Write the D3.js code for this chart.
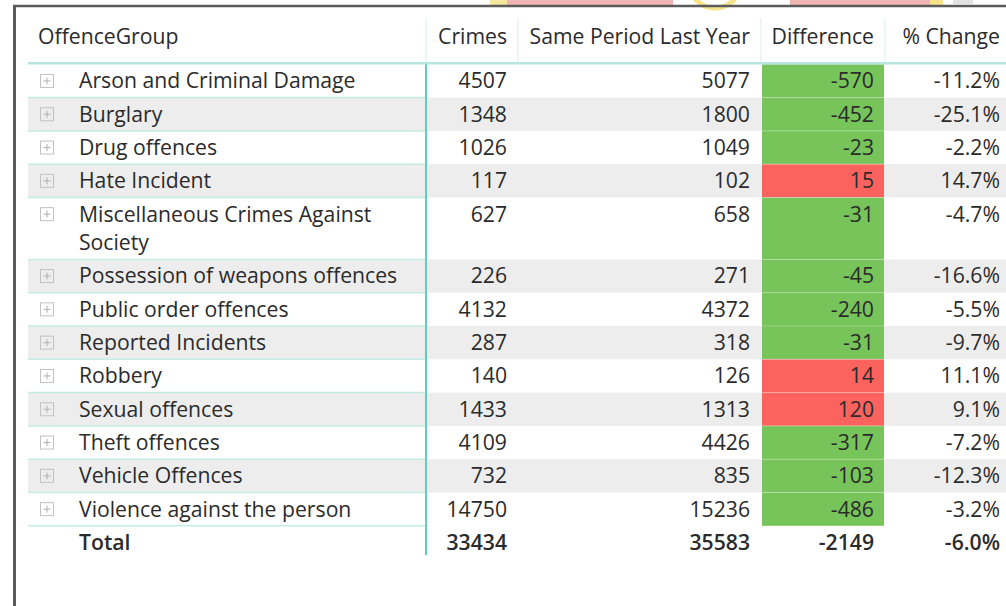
<!DOCTYPE html>
<html>
<head>
<meta charset="utf-8">
<script src="https://cdn.jsdelivr.net/npm/d3@7"></script>
<style>
  html, body { margin: 0; padding: 0; background: #fff; }
  svg { display: block; font-family: "Open Sans", "Noto Sans", sans-serif; }
</style>
</head>
<body>
<svg id="chart" width="1006" height="606"></svg>
<script>
const headers = ['OffenceGroup', 'Crimes', 'Same Period Last Year', 'Difference', '% Change']

const offenceGroups = [
  'Arson and Criminal Damage',
  'Burglary',
  'Drug offences',
  'Hate Incident',
  'Miscellaneous Crimes Against Society',
  'Possession of weapons offences',
  'Public order offences',
  'Reported Incidents',
  'Robbery',
  'Sexual offences',
  'Theft offences',
  'Vehicle Offences',
  'Violence against the person'
]
const crimes = [4507, 1348, 1026, 117, 627, 226, 4132, 287, 140, 1433, 4109, 732, 14750]
const lastYear = [5077, 1800, 1049, 102, 658, 271, 4372, 318, 126, 1313, 4426, 835, 15236]
const difference = [-570, -452, -23, 15, -31, -45, -240, -31, 14, 120, -317, -103, -486]
const pctChange = [-11.2, -25.1, -2.2, 14.7, -4.7, -16.6, -5.5, -9.7, 11.1, 9.1, -7.2, -12.3, -3.2]

const totalLabel = 'Total'
const totalValues = [33434, 35583, -2149, -6.0]

// layout
const W = 1006
const H = 606
const colEdges = [28, 426, 518, 761, 885, 1011]
const headerY = 37
const headerBottom = 64.3
const rowH = 33.3
const extraLine = 28.6
const padRight = 11
const labelX = 79
const wrapWidth = 340
const fontSize = 21.2

const textColor = '#2b2b2b'
const teal = '#5ccfc1'
const tealLight = '#c4ebe5'
const band = '#ededed'

const diffColor = d3.scaleThreshold().domain([0]).range(['#77c45a', '#fd635e'])
const locale = d3.formatLocale({ decimal: '.', thousands: ',', grouping: [3], currency: ['', ''], minus: '-' })
const fmtPct = d => locale.format('.1f')(d) + '%'

const svg = d3.select('#chart')

svg.append('rect').attr('width', W).attr('height', H).attr('fill', '#fff')

// faint artwork peeking above the frame
const deco = svg.append('g')
deco.append('rect').attr('x', 507).attr('y', 0).attr('width', 166).attr('height', 5).attr('fill', '#f1b4b2')
deco.append('rect').attr('x', 790).attr('y', 0).attr('width', 140).attr('height', 5).attr('fill', '#f1b4b2')
deco.append('circle').attr('cx', 715).attr('cy', -18).attr('r', 26)
  .attr('fill', '#fff').attr('stroke', '#f6e38a').attr('stroke-width', 5)
deco.append('rect').attr('x', 490).attr('y', 0).attr('width', 17).attr('height', 5).attr('fill', '#f6e7a0')
deco.append('rect').attr('x', 930).attr('y', 0).attr('width', 13).attr('height', 5).attr('fill', '#f6e38a')
deco.append('rect').attr('x', 953).attr('y', 0).attr('width', 20).attr('height', 4).attr('fill', '#e2e2e2')

// frame
svg.append('line').attr('x1', 13).attr('x2', W).attr('y1', 6).attr('y2', 6)
  .attr('stroke', '#5b5b5b').attr('stroke-width', 2.5)
svg.append('line').attr('x1', 14.5).attr('x2', 14.5).attr('y1', 5).attr('y2', H)
  .attr('stroke', '#5b5b5b').attr('stroke-width', 3)

// measure + wrap labels
const measure = svg.append('text').attr('font-size', fontSize).attr('visibility', 'hidden')
function wrap(label) {
  const words = label.split(' ')
  const lines = []
  let cur = ''
  words.forEach(w => {
    const test = cur ? cur + ' ' + w : w
    measure.text(test)
    if (measure.node().getComputedTextLength() > wrapWidth && cur) {
      lines.push(cur)
      cur = w
    } else {
      cur = test
    }
  })
  lines.push(cur)
  return lines
}

const rows = offenceGroups.map((g, i) => ({
  label: g,
  lines: wrap(g),
  values: [crimes[i], lastYear[i], difference[i], fmtPct(pctChange[i])],
  diff: difference[i],
  index: i
}))
measure.remove()

// row tops in "row units", one extra line adds extraLine/rowH
const lineUnit = extraLine / rowH
let acc = 0
rows.forEach(r => {
  r.top = acc
  r.size = 1 + (r.lines.length - 1) * lineUnit
  acc += r.size
})
const totalTop = acc

const y = d3.scaleLinear().domain([0, 1]).range([headerBottom, headerBottom + rowH])

// header
const head = svg.append('g').attr('font-size', fontSize).attr('fill', textColor)
headers.forEach((h, i) => {
  const t = head.append('text').attr('y', headerY).attr('dy', '0.35em').text(h)
  if (i === 0) t.attr('x', colEdges[0] + 10)
  else t.attr('x', colEdges[i + 1] - padRight).attr('text-anchor', 'end')
})
colEdges.slice(1, 5).forEach(x => {
  svg.append('line').attr('x1', x).attr('x2', x).attr('y1', 18).attr('y2', headerBottom - 2)
    .attr('stroke', '#e3f5f2').attr('stroke-width', 1.5)
})

// row bands
const body = svg.append('g')
body.selectAll('rect.band')
  .data(rows.filter(r => r.index % 2 === 1))
  .join('rect')
  .attr('class', 'band')
  .attr('x', colEdges[0])
  .attr('width', W - colEdges[0])
  .attr('y', d => y(d.top))
  .attr('height', d => y(d.top + d.size) - y(d.top))
  .attr('fill', band)

// difference cells
body.selectAll('rect.diff')
  .data(rows)
  .join('rect')
  .attr('class', 'diff')
  .attr('x', colEdges[3] + 1)
  .attr('width', colEdges[4] - colEdges[3] - 2)
  .attr('y', d => y(d.top))
  .attr('height', d => y(d.top + d.size) - y(d.top))
  .attr('fill', d => diffColor(d.diff))
body.selectAll('line.diffsep')
  .data(rows.slice(1))
  .join('line')
  .attr('class', 'diffsep')
  .attr('x1', colEdges[3] + 1)
  .attr('x2', colEdges[4] - 1)
  .attr('y1', d => y(d.top))
  .attr('y2', d => y(d.top))
  .attr('stroke', 'rgba(255,255,255,0.3)')

// row header separators
body.selectAll('line.rowsep')
  .data(rows)
  .join('line')
  .attr('class', 'rowsep')
  .attr('x1', colEdges[0])
  .attr('x2', colEdges[1])
  .attr('y1', d => y(d.top + d.size))
  .attr('y2', d => y(d.top + d.size))
  .attr('stroke', tealLight)
  .attr('stroke-width', 1.5)

// header rule + column rule
svg.append('line').attr('x1', colEdges[0]).attr('x2', W)
  .attr('y1', headerBottom - 1).attr('y2', headerBottom - 1)
  .attr('stroke', '#b5e6df').attr('stroke-width', 2.5)
svg.append('line').attr('x1', colEdges[1]).attr('x2', colEdges[1])
  .attr('y1', headerBottom).attr('y2', y(totalTop + 1) - 4)
  .attr('stroke', teal).attr('stroke-width', 2)

// expand icons
const icons = body.selectAll('g.icon')
  .data(rows)
  .join('g')
  .attr('class', 'icon')
  .attr('transform', d => `translate(47,${y(d.top + 0.5)})`)
icons.append('rect').attr('x', -6.5).attr('y', -6.5).attr('width', 13).attr('height', 13)
  .attr('fill', 'none').attr('stroke', '#c2c2c2')
icons.append('path').attr('d', 'M-3.5,0H3.5M0,-3.5V3.5').attr('stroke', '#b0b0b0')

// labels
const labels = body.selectAll('text.label')
  .data(rows)
  .join('text')
  .attr('class', 'label')
  .attr('font-size', fontSize)
  .attr('fill', textColor)
labels.selectAll('tspan')
  .data(d => d.lines.map((l, k) => ({ l, k, top: d.top })))
  .join('tspan')
  .attr('x', labelX)
  .attr('y', d => y(d.top + 0.5 + d.k * lineUnit))
  .attr('dy', '0.35em')
  .text(d => d.l)

// values
rows.forEach(r => {
  r.values.forEach((v, j) => {
    body.append('text')
      .attr('x', colEdges[j + 2] - padRight)
      .attr('y', y(r.top + 0.5))
      .attr('dy', '0.35em')
      .attr('text-anchor', 'end')
      .attr('font-size', fontSize)
      .attr('fill', textColor)
      .text(v)
  })
})

// total row
const tot = svg.append('g').attr('font-size', fontSize).attr('font-weight', 600).attr('fill', textColor)
tot.append('text').attr('x', labelX).attr('y', y(totalTop + 0.5)).attr('dy', '0.35em').text(totalLabel)
totalValues.forEach((v, j) => {
  tot.append('text')
    .attr('x', colEdges[j + 2] - padRight)
    .attr('y', y(totalTop + 0.5))
    .attr('dy', '0.35em')
    .attr('text-anchor', 'end')
    .text(j === 3 ? fmtPct(v) : v)
})
</script>
</body>
</html>
